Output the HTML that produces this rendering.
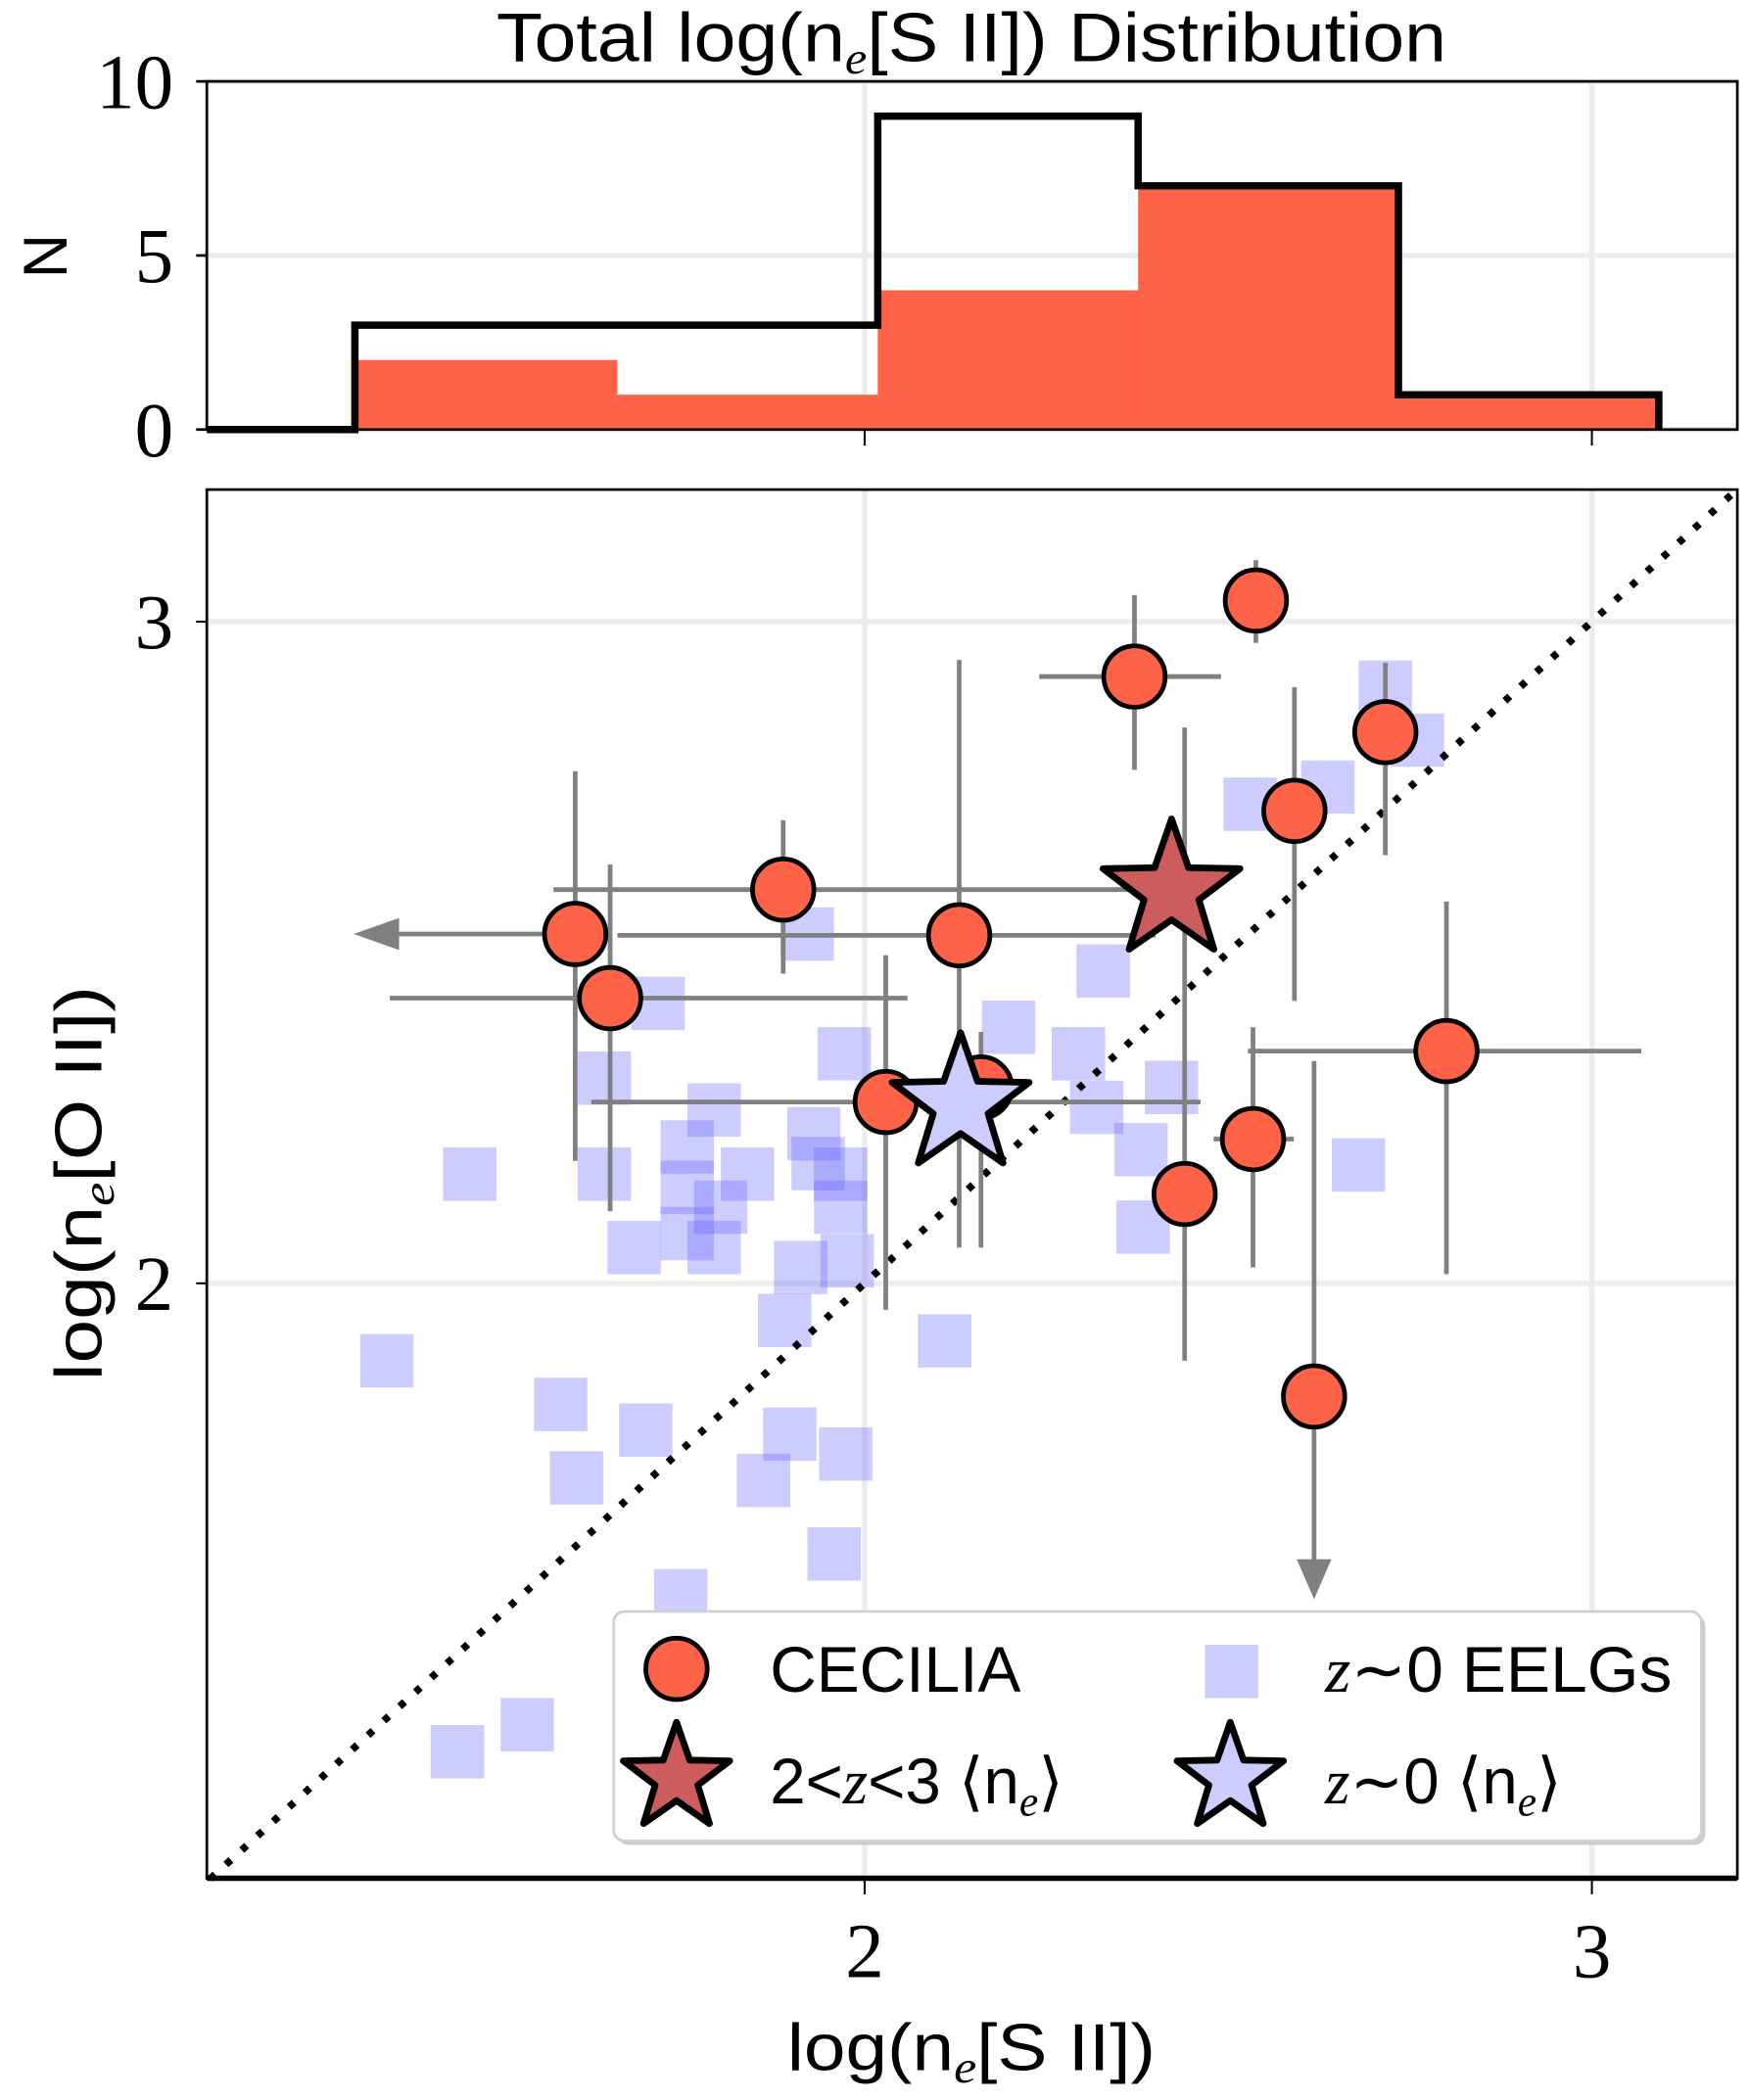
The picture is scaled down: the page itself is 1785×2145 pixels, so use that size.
<!DOCTYPE html>
<html><head><meta charset="utf-8"><style>
html,body{margin:0;padding:0;background:#fff}
svg{display:block}
.serif{font-family:"Liberation Serif",serif}
.sans{font-family:"Liberation Sans",sans-serif}
</style></head><body>
<svg id="fig" width="1785" height="2145" viewBox="0 0 1310 1574.2" xmlns="http://www.w3.org/2000/svg">
<g id="hist"></g>
<g id="scat"></g>
</svg>
<script>
// ---------- data ----------
const binEdges = [1.299, 1.659, 2.018, 2.376, 2.734, 3.092];
const totalCounts = [3, 3, 9, 7, 1];
const ceciliaCounts = [2, 1, 4, 7, 1];
const histYTicks = [0, 5, 10];
const xTicks = [2, 3];
const yTicks = [2, 3];

const cecX = [2.538, 2.371, 2.716, 2.591, 1.888, 2.130, 1.602, 1.650, 2.800, 2.029, 2.160, 2.534, 2.440, 2.618];
const cecY = [3.032, 2.917, 2.833, 2.714, 2.595, 2.526, 2.528, 2.431, 2.351, 2.274, 2.296, 2.218, 2.135, 1.829];
const cecXLo = [null, 2.240, null, null, 1.572, 1.660, null, 1.347, 2.527, 1.624, null, 2.480, null, null];
const cecXHi = [null, 2.490, null, null, 2.426, 2.400, null, 2.059, 3.068, 2.462, null, 2.590, null, null];
const cecYLo = [2.968, 2.776, 2.647, 2.427, 2.468, 2.054, 2.185, 2.109, 2.014, 1.960, 2.054, 2.024, 1.883, null];
const cecYHi = [3.093, 3.040, 2.938, 2.901, 2.700, 2.942, 2.774, 2.633, 2.577, 2.496, 2.380, 2.387, 2.840, 2.336];
const xUpperLimit = [false, false, false, false, false, false, true, false, false, false, false, false, false, false];
const yUpperLimit = [false, false, false, false, false, false, false, false, false, false, false, false, false, true];

const eelgX = [2.716,2.760,2.530,2.637,1.921,2.328,1.716,2.198,2.294,1.642,1.972,1.793,1.457,1.642,1.756,1.839,1.930,1.967,1.936,1.756,1.802,1.756,1.683,1.793,1.967,1.912,1.976,1.890,2.110,2.380,2.422,2.319,2.383,2.679,1.343,1.582,1.699,1.897,1.604,1.861,1.974,1.958,1.747,1.536,1.440];
const eelgY = [2.901,2.821,2.724,2.750,2.528,2.472,2.423,2.387,2.347,2.310,2.347,2.262,2.165,2.165,2.206,2.165,2.226,2.165,2.181,2.145,2.115,2.075,2.054,2.054,2.115,2.024,2.034,1.944,1.913,2.202,2.296,2.266,2.085,2.179,1.883,1.817,1.778,1.772,1.706,1.702,1.742,1.591,1.528,1.333,1.292];

const highZMean = [2.422, 2.593];
const lowZMean = [2.132, 2.270];

// ---------- axes ----------
const L = 155, R = 1302;
const sx = v => 648 + (v - 2) * 545;
const hy = n => 322 - n * 26.1;
const sy = v => 962 - (v - 2) * 496;
const NS = "http://www.w3.org/2000/svg";
function mk(tag, parent, attrs, text) {
  const e = document.createElementNS(NS, tag);
  for (const k in attrs) e.setAttribute(k, attrs[k]);
  if (text !== undefined) e.textContent = text;
  parent.appendChild(e);
  return e;
}
const H = document.getElementById('hist');
const S = document.getElementById('scat');

// ---------- histogram ----------
let t = mk('text', H, {x: 372, y: 46, 'font-size': 52, class: 'sans', textLength: 712, lengthAdjust: 'spacingAndGlyphs'});


t.innerHTML = 'Total log(n<tspan class="serif" font-style="italic" font-size="34" dy="9">e</tspan><tspan dy="-9">[S II]) Distribution</tspan>';

[2, 3].forEach(v => { const g = mk('line', H, {x1: sx(v), x2: sx(v), y1: 61, y2: 322, stroke: '#ececec', 'stroke-width': 4});
    });
histYTicks.forEach(v => { const g = mk('line', H, {x1: L, x2: R, y1: hy(v), y2: hy(v), stroke: '#ececec', 'stroke-width': 4});
    });

ceciliaCounts.forEach((c, i) => {
  const r = mk('rect', H, {x: sx(binEdges[i]), y: hy(c), width: sx(binEdges[i+1]) - sx(binEdges[i]) + 0.5, height: hy(0) - hy(c), fill: '#ff6347'});
  
  
});
let d = 'M' + L + ',' + hy(0) + ' L' + sx(binEdges[0]) + ',' + hy(0);
totalCounts.forEach((c, i) => { d += ' L' + sx(binEdges[i]) + ',' + hy(c) + ' L' + sx(binEdges[i+1]) + ',' + hy(c); });
d += ' L' + sx(binEdges[binEdges.length-1]) + ',' + hy(0);
let p = mk('path', H, {d: d, fill: 'none', stroke: '#000', 'stroke-width': 5.5});



let f = mk('rect', H, {x: L, y: 61, width: R - L, height: 261, fill: 'none', stroke: '#000', 'stroke-width': 2});


histYTicks.forEach(v => {
  mk('line', H, {x1: L - 8, x2: L, y1: hy(v), y2: hy(v), stroke: '#000', 'stroke-width': 2});
  const tl = mk('text', H, {x: 130, y: hy(v) + 20, 'text-anchor': 'end', 'font-size': 58, class: 'serif'}, String(v));
  
  
});
xTicks.forEach(v => mk('line', H, {x1: sx(v), x2: sx(v), y1: 322, y2: 334, stroke: '#000', 'stroke-width': 1.5}));
t = mk('text', H, {x: 0, y: 0, 'text-anchor': 'middle', 'font-size': 46, class: 'sans', transform: 'translate(50,192) rotate(-90)'}, 'N');



// ---------- scatter ----------
const T = 367, B = 1408;
xTicks.forEach(v => { const g = mk('line', S, {x1: sx(v), x2: sx(v), y1: T, y2: B, stroke: '#ececec', 'stroke-width': 4});
    });
yTicks.forEach(v => { const g = mk('line', S, {x1: L, x2: R, y1: sy(v), y2: sy(v), stroke: '#ececec', 'stroke-width': 4});
    });

eelgX.forEach((x, i) => {
  const r = mk('rect', S, {x: sx(x) - 20, y: sy(eelgY[i]) - 20, width: 40, height: 40, fill: '#6464ff', 'fill-opacity': 0.33});
  
  
});

let oneLo = 1.1, oneHi = 3.2;
let dl = mk('line', S, {x1: sx(oneLo), y1: sy(oneLo), x2: sx(oneHi), y2: sy(oneHi), stroke: '#000', 'stroke-width': 5.5, 'stroke-dasharray': '5 11'});



cecX.forEach((x, i) => {
  const g = mk('g', S, {stroke: '#808080', 'stroke-width': 3.5, fill: '#808080'});
  
  
  const cx = sx(x), cy = sy(cecY[i]);
  if (cecYHi[i] !== null) {
    const lo = cecYLo[i] !== null ? cecYLo[i] : cecY[i];
    mk('line', g, {x1: cx, x2: cx, y1: sy(cecYHi[i]), y2: sy(lo)});
  }
  if (cecXLo[i] !== null) mk('line', g, {x1: sx(cecXLo[i]), x2: sx(cecXHi[i]), y1: cy, y2: cy});
  if (xUpperLimit[i]) {
    const ex = cx - 166;
    mk('line', g, {x1: cx, x2: ex + 15, y1: cy, y2: cy});
    mk('polygon', g, {points: `${ex},${cy} ${ex+34},${cy-12} ${ex+34},${cy+12}`, stroke: 'none'});
  }
  if (yUpperLimit[i]) {
    const ey = cy + 152;
    mk('line', g, {x1: cx, x2: cx, y1: cy, y2: ey - 15});
    mk('polygon', g, {points: `${cx},${ey} ${cx-13},${ey-30} ${cx+13},${ey-30}`, stroke: 'none'});
  }
});
cecX.forEach((x, i) => {
  const c = mk('circle', S, {cx: sx(x), cy: sy(cecY[i]), r: 23, fill: '#ff6347', stroke: '#000', 'stroke-width': 3.5});
  
  
});

function starPts(cx, cy, R1) {
  const R2 = R1 * 0.4; let s = [];
  for (let k = 0; k < 10; k++) { const a = -Math.PI/2 + k * Math.PI/5; const r = k % 2 ? R2 : R1; s.push((cx + r*Math.cos(a)).toFixed(1) + ',' + (cy + r*Math.sin(a)).toFixed(1)); }
  return s.join(' ');
}
let st = mk('polygon', S, {points: starPts(sx(highZMean[0]), sy(highZMean[1]), 54), fill: '#cd5c5c', stroke: '#000', 'stroke-width': 5, 'stroke-linejoin': 'round'});


st = mk('polygon', S, {points: starPts(sx(lowZMean[0]), sy(lowZMean[1]), 54), fill: '#ccccff', stroke: '#000', 'stroke-width': 5, 'stroke-linejoin': 'round'});



f = mk('rect', S, {x: L, y: T, width: R - L, height: B - T, fill: 'none', stroke: '#000', 'stroke-width': 2});


mk('line', S, {x1: L, x2: R, y1: B, y2: B, stroke: '#000', 'stroke-width': 4});
xTicks.forEach(v => {
  mk('line', S, {x1: sx(v), x2: sx(v), y1: B, y2: B + 12, stroke: '#000', 'stroke-width': 1.5});
  const tl = mk('text', S, {x: sx(v), y: 1482, 'text-anchor': 'middle', 'font-size': 58, class: 'serif'}, String(v));
  
  
});
yTicks.forEach(v => {
  mk('line', S, {x1: L - 8, x2: L, y1: sy(v), y2: sy(v), stroke: '#000', 'stroke-width': 1.5});
  const tl = mk('text', S, {x: 130, y: sy(v) + 20, 'text-anchor': 'end', 'font-size': 58, class: 'serif'}, String(v));
  
  
});
t = mk('text', S, {x: 590, y: 1552, 'font-size': 50, class: 'sans', textLength: 276, lengthAdjust: 'spacingAndGlyphs'});


t.innerHTML = 'log(n<tspan class="serif" font-style="italic" font-size="34" dy="9">e</tspan><tspan dy="-9">[S II])</tspan>';
t = mk('text', S, {x: -148, y: 0, 'font-size': 50, class: 'sans', textLength: 296, lengthAdjust: 'spacingAndGlyphs', transform: 'translate(76,887) rotate(-90)'});


t.innerHTML = 'log(n<tspan class="serif" font-style="italic" font-size="34" dy="9">e</tspan><tspan dy="-9">[O II])</tspan>';

// legend
const lg = mk('g', S, {});


mk('rect', lg, {x: 463, y: 1211, width: 815, height: 172, rx: 8, fill: '#cccccc'});
mk('rect', lg, {x: 460, y: 1208, width: 815, height: 172, rx: 8, fill: '#fff', stroke: '#d0d0d0', 'stroke-width': 2});
let e = mk('circle', lg, {cx: 507, cy: 1251, r: 23, fill: '#ff6347', stroke: '#000', 'stroke-width': 3.5});
 
e = mk('text', lg, {x: 577, y: 1268, 'font-size': 48, class: 'sans', textLength: 188, lengthAdjust: 'spacingAndGlyphs'}, 'CECILIA');
 
e = mk('rect', lg, {x: 903, y: 1233, width: 40, height: 40, fill: '#6464ff', 'fill-opacity': 0.33});
 
e = mk('text', lg, {x: 993, y: 1268, 'font-size': 48, class: 'sans', textLength: 260, lengthAdjust: 'spacingAndGlyphs'});
e.innerHTML = '<tspan class="serif" font-style="italic">z</tspan>∼0 EELGs';
 
e = mk('polygon', lg, {points: starPts(507, 1333, 42), fill: '#cd5c5c', stroke: '#000', 'stroke-width': 5, 'stroke-linejoin': 'round'});
 
e = mk('text', lg, {x: 577, y: 1352, 'font-size': 48, class: 'sans'});
e.innerHTML = '2&lt;<tspan class="serif" font-style="italic">z</tspan>&lt;3 ⟨n<tspan class="serif" font-style="italic" font-size="32" dy="9">e</tspan><tspan dy="-9">⟩</tspan>';
 
e = mk('polygon', lg, {points: starPts(922, 1333, 42), fill: '#ccccff', stroke: '#000', 'stroke-width': 5, 'stroke-linejoin': 'round'});
 
e = mk('text', lg, {x: 993, y: 1352, 'font-size': 48, class: 'sans'});
e.innerHTML = '<tspan class="serif" font-style="italic">z</tspan>∼0 ⟨n<tspan class="serif" font-style="italic" font-size="32" dy="9">e</tspan><tspan dy="-9">⟩</tspan>';
 
</script>
</body></html>
